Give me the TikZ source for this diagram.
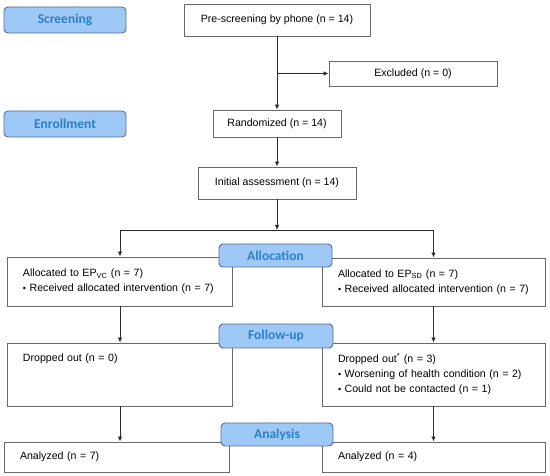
\documentclass[tikz,border=0pt]{standalone}
\usepackage{fontspec}
\setmainfont{Liberation Sans}
\newfontfamily\labelfont{Carlito}
\usetikzlibrary{arrows.meta}
\definecolor{labfill}{RGB}{158,201,246}
\definecolor{labdraw}{RGB}{85,110,145}
\definecolor{labtext}{RGB}{45,128,198}
\definecolor{boxdraw}{RGB}{105,105,105}
\definecolor{linecol}{RGB}{45,45,45}
\begin{document}
\begin{tikzpicture}[x=1pt,y=-1pt,
  stagelabel/.style={draw=labdraw,fill=labfill,rounded corners=4pt,line width=0.9pt,
    text=labtext,font=\labelfont\bfseries\fontsize{13.5}{16}\selectfont,inner sep=0pt},
  cbox/.style={draw=boxdraw,fill=white,line width=0.9pt,inner sep=0pt,
    font=\fontsize{10.6}{15}\selectfont},
  lbox/.style={cbox,align=left,inner xsep=16pt,inner ysep=0pt},
  conn/.style={draw=linecol,line width=0.8pt},
  arr/.style={conn,-{Latex[length=5pt,width=4.5pt]}}
]
\useasboundingbox (0,0) rectangle (550,476);

% main boxes
\node[cbox,minimum width=186pt,minimum height=32pt] (pre) at (277,20) {Pre-screening by phone (n = 14)};
\node[cbox,minimum width=168pt,minimum height=25pt] (excl) at (413,73.5) {Excluded (n = 0)};
\node[cbox,minimum width=128pt,minimum height=27pt] (rand) at (277,123.5) {Randomized (n = 14)};
\node[cbox,minimum width=158pt,minimum height=32pt] (init) at (277,183) {Initial assessment (n = 14)};

\node[lbox,text width=193pt,minimum height=49pt] (allocL) at (119.5,281.5)
  {Allocated to EP\textsubscript{VC} (n = 7)\\{\small•} Received allocated intervention (n = 7)};
\node[lbox,text width=191pt,minimum height=48pt] (allocR) at (433.5,282)
  {Allocated to EP\textsubscript{SD} (n = 7)\\{\small•} Received allocated intervention (n = 7)};

\node[lbox,text width=193pt,minimum height=63pt] (dropL) at (119.5,374.5)
  {Dropped out (n = 0)\\\strut\\\strut};
\node[lbox,text width=191pt,minimum height=63pt] (dropR) at (433.5,374.5)
  {Dropped out\textsuperscript{*} (n = 3)\\{\small•} Worsening of health condition (n = 2)\\{\small•} Could not be contacted (n = 1)};

\node[lbox,text width=193pt,minimum height=30pt] (anL) at (116.5,457) {Analyzed (n = 7)};
\node[lbox,text width=191pt,minimum height=30pt] (anR) at (433.5,457) {Analyzed (n = 4)};

% connectors
\coordinate (j) at (277,230);
\coordinate (jl) at (120,230);
\coordinate (jr) at (433.5,230);
\draw[arr] (pre.south) -- (rand.north);
\draw[arr] (pre.south |- excl.west) -- (excl.west);
\draw[arr] (rand.south) -- (init.north);
\draw[arr] (init.south) -- (j);
\draw[conn] (jl) -- (jr);
\draw[arr] (jl) -- (allocL.north -| jl);
\draw[arr] (jr) -- (allocR.north);
\draw[arr] (allocL.south -| jl) -- (dropL.north -| jl);
\draw[arr] (allocR.south) -- (dropR.north);
\draw[arr] (dropL.south -| jl) -- (anL.north -| jl);
\draw[arr] (dropR.south) -- (anR.north);

% stage labels
\node[stagelabel,minimum width=122pt,minimum height=26pt] (screening) at (65,20) {Screening};
\node[stagelabel,minimum width=122pt,minimum height=26pt] (enrollment) at (65,124) {Enrollment};
\node[stagelabel,minimum width=113pt,minimum height=23pt] (allocation) at (275.5,255.5) {Allocation};
\node[stagelabel,minimum width=114pt,minimum height=24pt] (followup) at (276,336) {Follow-up};
\node[stagelabel,minimum width=112pt,minimum height=23pt] (analysis) at (277,434.5) {Analysis};
\end{tikzpicture}
\end{document}
